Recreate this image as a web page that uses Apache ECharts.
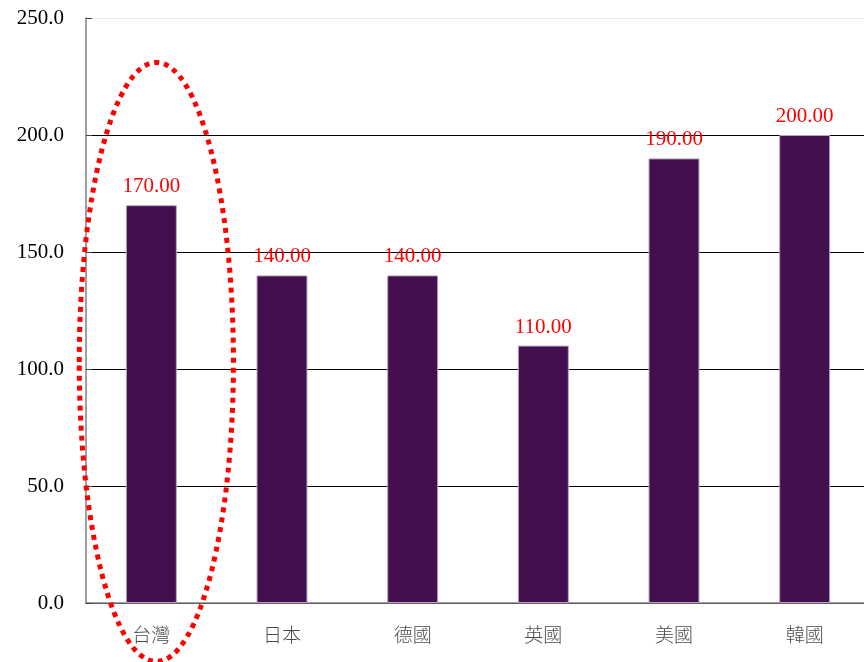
<!DOCTYPE html>
<html>
<head>
<meta charset="utf-8">
<script src="https://cdn.jsdelivr.net/npm/echarts@6/dist/echarts.min.js"></script>
<style>
  html, body { margin: 0; padding: 0; background: #fff; overflow: hidden; }
  #chart { width: 870px; height: 662px; }
</style>
</head>
<body>
<div id="chart"></div>
<script>
// Countries on the category axis
const categories = ['台灣', '日本', '德國', '英國', '美國', '韓國'];
// Bar values
const values = [170, 140, 140, 110, 190, 200];
// Value axis range
const yMin = 0;
const yMax = 250;
const yStep = 50;

const chart = echarts.init(document.getElementById('chart'));

chart.setOption({
  animation: false,
  backgroundColor: '#fff',
  grid: { left: 86, right: 0, top: 18, bottom: 59, containLabel: false },
  xAxis: {
    type: 'category',
    data: categories,
    axisLine: { lineStyle: { color: '#808080', width: 1.5 } },
    axisTick: { inside: true, length: 6, lineStyle: { color: '#808080' } },
    axisLabel: {
      color: '#4a4a4a',
      fontFamily: 'Noto Sans CJK TC',
      fontWeight: 300,
      fontSize: 19,
      margin: 22
    }
  },
  yAxis: {
    type: 'value',
    min: yMin,
    max: yMax,
    interval: yStep,
    axisLine: { show: true, lineStyle: { color: '#808080', width: 1.5 } },
    axisTick: { show: true, inside: true, length: 6, lineStyle: { color: '#404040' } },
    axisLabel: {
      color: '#000',
      fontFamily: 'Liberation Serif',
      fontSize: 21,
      margin: 22,
      formatter: v => v.toFixed(1)
    },
    splitLine: {
      show: true,
      lineStyle: { color: ['#000', '#000', '#000', '#000', '#000', '#ececec'], width: 1 }
    }
  },
  series: [{
    type: 'bar',
    data: values,
    barWidth: '39%',
    itemStyle: { color: '#430f4f', borderColor: '#b8a4bf', borderWidth: 1 },
    label: {
      show: true,
      position: 'top',
      distance: 8,
      color: '#ff0000',
      fontFamily: 'Liberation Serif',
      fontSize: 21,
      formatter: p => p.value.toFixed(2)
    }
  }]
});

// Dotted ellipse highlighting the first category
const center = chart.convertToPixel({ xAxisIndex: 0, yAxisIndex: 0 }, [0, 103]);
const topPx = chart.convertToPixel({ yAxisIndex: 0 }, 231);
const bandWidth = chart.convertToPixel({ xAxisIndex: 0 }, 1) - chart.convertToPixel({ xAxisIndex: 0 }, 0);
chart.setOption({
  graphic: [{
    type: 'ellipse',
    shape: { cx: center[0] + 5, cy: center[1], rx: bandWidth * 0.59, ry: center[1] - topPx },
    style: { fill: 'none', stroke: '#ff0000', lineWidth: 5, lineDash: [5, 5] },
    z: 100
  }]
});
</script>
</body>
</html>
